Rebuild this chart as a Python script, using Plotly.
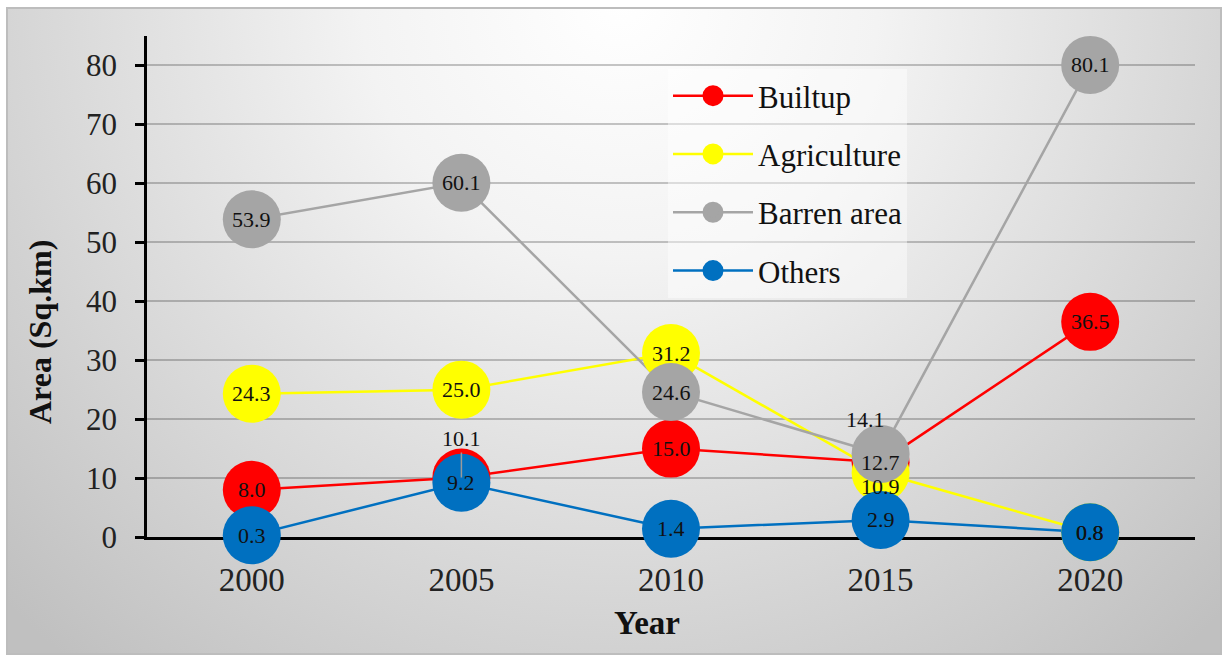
import base64
import plotly.graph_objects as go

# ---- data -------------------------------------------------------------
years = ["2000", "2005", "2010", "2015", "2020"]
builtup = [8.0, 10.1, 15.0, 12.7, 36.5]
agriculture = [24.3, 25.0, 31.2, 10.9, 0.8]
barren = [53.9, 60.1, 24.6, 14.1, 80.1]
others = [0.3, 9.2, 1.4, 2.9, 0.8]

series_names = ["Builtup", "Agriculture", "Barren area", "Others"]
series_values = [builtup, agriculture, barren, others]
series_colors = ["#FF0000", "#FFFF00", "#A5A5A5", "#0070C0"]

y_ticks = [0, 10, 20, 30, 40, 50, 60, 70, 80]

# label nudges (px) for points whose label sits off the marker
label_shift = {
    ("Builtup", "2005"): (0, 39),
    ("Barren area", "2015"): (-15, 34),
    ("Agriculture", "2015"): (0, -14),
}

FONT = "Liberation Serif, Times New Roman, serif"

# ---- geometry of the page ----------------------------------------------
W, H = 1225, 659
ML, MR, MT, MB = 147, 30, 36, 122
PW, PH = W - ML - MR, H - MT - MB


def px_to_paper(x, y):
    return (x - ML) / PW, (H - MB - y) / PH


# chart-area background: soft radial grey gradient inside a thin frame
bx0, by0, bx1, by1 = 6, 7, 1222, 655
bw, bh = bx1 - bx0, by1 - by0
svg = f'''<svg xmlns="http://www.w3.org/2000/svg" width="{bw}" height="{bh}" viewBox="0 0 {bw} {bh}" preserveAspectRatio="none">
<defs><radialGradient id="g" gradientUnits="userSpaceOnUse" cx="614" cy="-7" r="860">
<stop offset="0" stop-color="#ffffff"/><stop offset="0.3" stop-color="#f3f3f3"/><stop offset="1" stop-color="#c0c0c0"/>
</radialGradient></defs>
<rect x="1" y="1" width="{bw-2}" height="{bh-2}" fill="url(#g)" stroke="#bdbdbd" stroke-width="2"/></svg>'''
svg_uri = "data:image/svg+xml;base64," + base64.b64encode(svg.encode()).decode()
ix0, iy0 = px_to_paper(bx0, by0)
ix1, iy1 = px_to_paper(bx1, by1)

fig = go.Figure()

# lines first (these also carry the legend entries)
for name, vals, col in zip(series_names, series_values, series_colors):
    fig.add_trace(go.Scatter(
        x=years, y=vals, name=name, mode="lines+markers",
        line=dict(color=col, width=2.5),
        marker=dict(size=16, color=col, line=dict(color=col, width=5)),
        legendgroup=name, hoverinfo="skip", cliponaxis=False,
    ))

# big circular markers on top of every line
for name, vals, col in zip(series_names, series_values, series_colors):
    fig.add_trace(go.Scatter(
        x=years, y=vals, mode="markers", showlegend=False,
        marker=dict(size=58, color=col, line=dict(width=0)),
        legendgroup=name, cliponaxis=False,
    ))

# data labels drawn above all markers (category index on the x axis)
annotations = []
for name, vals in zip(series_names, series_values):
    for i, (yr, v) in enumerate(zip(years, vals)):
        dx, dy = label_shift.get((name, yr), (0, 0))
        ann = dict(x=i, y=v, xref="x", yref="y", text=f"{v:.1f}",
                   font=dict(family=FONT, size=22, color="#111111"),
                   xanchor="center", yanchor="middle",
                   xshift=dx, yshift=dy, showarrow=False)
        if (name, yr) == ("Builtup", "2005"):
            ann.update(showarrow=True, ax=0, ay=-dy, xshift=0, yshift=0,
                       arrowhead=0, arrowwidth=1.5, arrowcolor="#9a9a9a",
                       standoff=0)
        annotations.append(ann)

# axis titles
yt_x, yt_y = px_to_paper(40, 332)
xt_x, xt_y = px_to_paper(647, 623)
annotations.append(dict(x=yt_x, y=yt_y, xref="paper", yref="paper",
                        xanchor="center", yanchor="middle",
                        text="<b>Area (Sq.km)</b>", textangle=-90, showarrow=False,
                        font=dict(family=FONT, size=32, color="#111111")))
annotations.append(dict(x=xt_x, y=xt_y, xref="paper", yref="paper",
                        xanchor="center", yanchor="middle",
                        text="<b>Year</b>", showarrow=False,
                        font=dict(family=FONT, size=33, color="#111111")))

lg_x, lg_y = px_to_paper(668, 69)

fig.update_layout(
    width=W, height=H,
    margin=dict(l=ML, r=MR, t=MT, b=MB, pad=0),
    paper_bgcolor="white",
    plot_bgcolor="rgba(0,0,0,0)",
    font=dict(family=FONT, color="#111111"),
    images=[dict(source=svg_uri, xref="paper", yref="paper",
                 x=ix0, y=iy0, sizex=ix1 - ix0, sizey=iy0 - iy1,
                 xanchor="left", yanchor="top", sizing="stretch",
                 layer="below")],
    annotations=annotations,
    showlegend=True,
    legend=dict(x=lg_x, y=lg_y, xanchor="left", yanchor="top",
                bgcolor="rgba(255,255,255,0.45)", borderwidth=0,
                font=dict(family=FONT, size=31, color="#111111"),
                itemwidth=80, tracegroupgap=15, traceorder="grouped"),
    xaxis=dict(type="category", range=[-0.5, 4.5], showgrid=False,
               showline=True, linecolor="black", linewidth=2.5,
               ticks="", tickfont=dict(family=FONT, size=33, color="#222222"),
               ticklabelstandoff=12, zeroline=False, layer="below traces"),
    yaxis=dict(range=[0, 85], tickvals=y_ticks, showgrid=True,
               gridcolor="rgba(0,0,0,0.22)", gridwidth=2,
               showline=True, linecolor="black", linewidth=2.5,
               ticks="outside", ticklen=9, tickwidth=2.5, tickcolor="black",
               tickfont=dict(family=FONT, size=31, color="#222222"),
               ticklabelstandoff=12, zeroline=False, layer="below traces"),
    hovermode=False,
)

fig.write_html("out.html")
